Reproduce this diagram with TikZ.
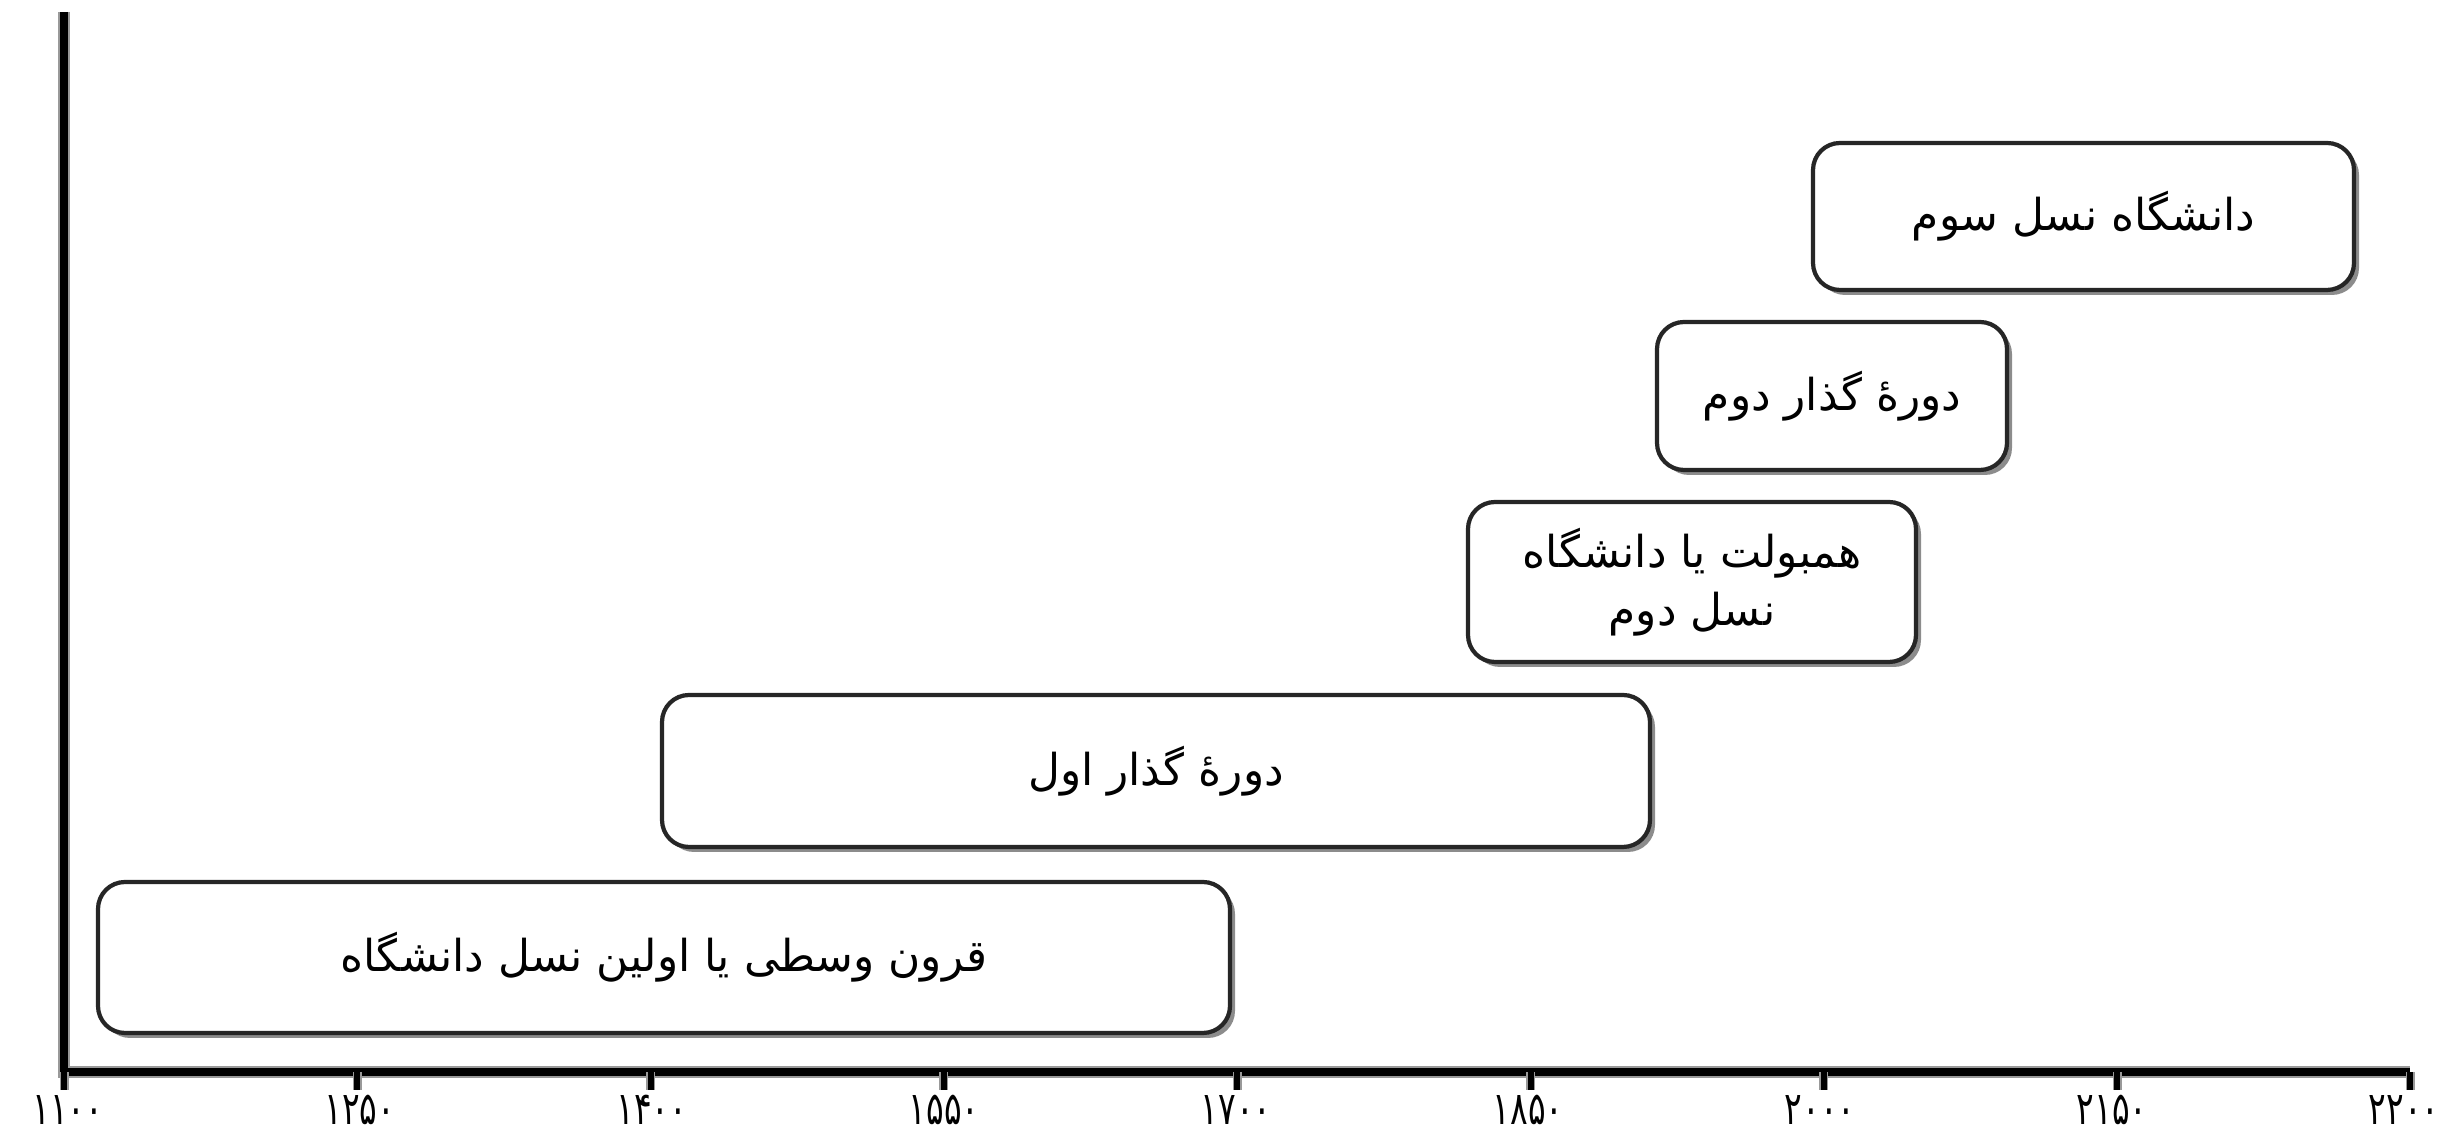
\documentclass[tikz,border=0pt]{standalone}
\usepackage{fontspec}
\newfontfamily\arabicfont[Script=Arabic]{DejaVu Sans}
\TeXXeTstate=1
\usepackage{tikz}
\usetikzlibrary{shadows, positioning}

\tikzset{
  era/.style={draw=black!85, line width=1.2pt, rounded corners=0.27cm, fill=white,
    drop shadow={shadow xshift=0.05cm, shadow yshift=-0.05cm, fill=black!45, opacity=1},
    font=\arabicfont\fontsize{12.5}{16.5}\selectfont, align=center, inner sep=0pt},
  axisline/.style={line width=0.08cm, black},
  axisglow/.style={line width=0.12cm, black!40},
  yearlbl/.style={font=\arabicfont\fontsize{13}{15}\selectfont, inner sep=0pt, anchor=base}
}

\begin{document}
\begin{tikzpicture}
    \useasboundingbox (0,0) rectangle (24.59,11.38);
    % 1. axes
    \coordinate (top) at (0.64,11.26);
    \coordinate (O) at (0.64,0.66);
    \coordinate (end) at (24.10,0.66);
    \draw[axisglow] (top) -- (O) -- (end);
    \draw[axisline] (top) -- (O) -- (end);

    % 2. ticks and years
    \foreach \i/\lab in {0/۱۱۰۰,1/۱۲۵۰,2/۱۴۰۰,3/۱۵۵۰,4/۱۷۰۰,5/۱۸۵۰,6/۲۰۰۰,7/۲۱۵۰,8/۲۲۰۰} {
        \draw[axisglow, line width=0.09cm] ({0.64+\i*2.933},0.66) -- ++(0,-0.18);
        \draw[axisline, line width=0.06cm] ({0.64+\i*2.933},0.66) -- ++(0,-0.18);
        \node[yearlbl] (year\i) at ({0.68+\i*2.92},0.13) {\scalebox{0.72}[1]{\lab}};
    }

    % 3. eras
    \node[era, minimum width=11.32cm, minimum height=1.51cm] (era1) at (6.64,1.805)
        {\beginR قرون وسطی یا اولین نسل دانشگاه\endR};
    \node[era, minimum width=9.88cm, minimum height=1.52cm] (era2) at (11.56,3.67)
        {\beginR دورهٔ گذار اول\endR};
    \node[era, minimum width=4.48cm, minimum height=1.60cm] (era3) at (16.92,5.56)
        {\beginR همبولت یا دانشگاه\endR\\\beginR نسل دوم\endR};
    \node[era, minimum width=3.50cm, minimum height=1.48cm] (era4) at (18.32,7.42)
        {\beginR دورهٔ گذار دوم\endR};
    \node[era, minimum width=5.41cm, minimum height=1.47cm] (era5) at (20.835,9.215)
        {\beginR دانشگاه نسل سوم\endR};
\end{tikzpicture}
\end{document}
